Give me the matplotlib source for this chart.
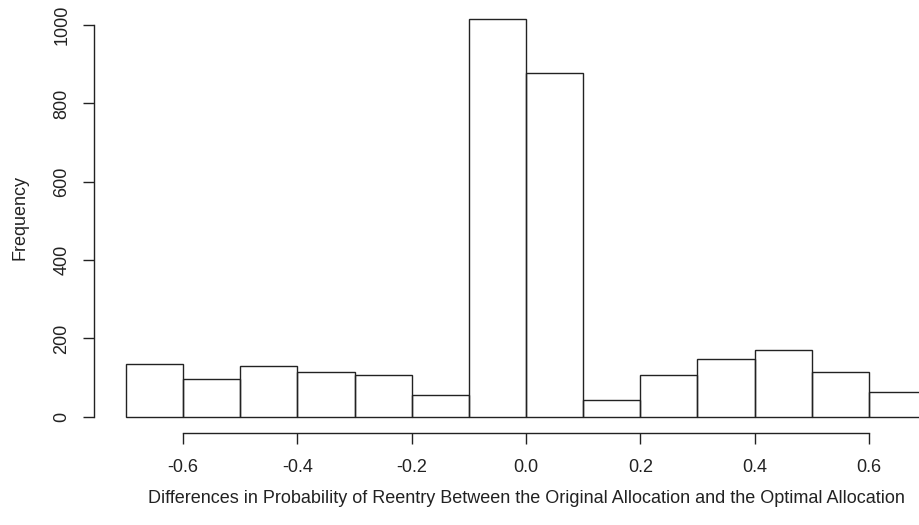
import numpy as np
import matplotlib
matplotlib.use("Agg")
import matplotlib.pyplot as plt

# histogram of differences, bins of width 0.1
bin_edges = [-0.7, -0.6, -0.5, -0.4, -0.3, -0.2, -0.1, 0.0, 0.1, 0.2, 0.3, 0.4, 0.5, 0.6, 0.7]
counts = [135, 96, 129, 114, 106, 55, 1016, 879, 42, 106, 147, 170, 115, 62]
x_ticks = [-0.6, -0.4, -0.2, 0.0, 0.2, 0.4, 0.6]
y_ticks = [0, 200, 400, 600, 800, 1000]

plt.rcParams['font.family'] = ['Liberation Sans', 'DejaVu Sans']
plt.rcParams['axes.unicode_minus'] = False

fig = plt.figure(figsize=(9.19, 5.25), dpi=100)
# R-like plot region: 4% padding around data range
ax = fig.add_axes([94/919, (525-432.6)/525, 864/919, 429.6/525])

lefts = np.array(bin_edges[:-1])
widths = np.diff(bin_edges)
ax.bar(lefts, counts, width=widths, align='edge', fill=False,
       edgecolor='#222222', linewidth=1.0)

ax.set_xlim(-0.756, 0.756)
ax.set_ylim(-40.6, 1056.6)

for s in ['top', 'right']:
    ax.spines[s].set_visible(False)
ax.spines['left'].set_bounds(0, 1000)
ax.spines['bottom'].set_bounds(-0.6, 0.6)
for s in ['left', 'bottom']:
    ax.spines[s].set_color('#222222')
    ax.spines[s].set_linewidth(1.0)

ax.set_xticks(x_ticks)
ax.set_xticklabels([f"{v:.1f}" for v in x_ticks])
ax.set_yticks(y_ticks)
ax.set_yticklabels([str(v) for v in y_ticks], rotation=90, va='center')
ax.tick_params(axis='both', direction='out', length=8, width=1.0,
               color='#222222', labelsize=13, labelcolor='#222222')
ax.tick_params(axis='x', pad=11)
ax.tick_params(axis='y', pad=9)

ax.set_xlabel("Differences in Probability of Reentry Between the Original Allocation and the Optimal Allocation",
              fontsize=13, color='#222222', labelpad=10)
ax.set_ylabel("Frequency", fontsize=13, color='#222222', labelpad=18)

fig.savefig("out.png", dpi=100)
